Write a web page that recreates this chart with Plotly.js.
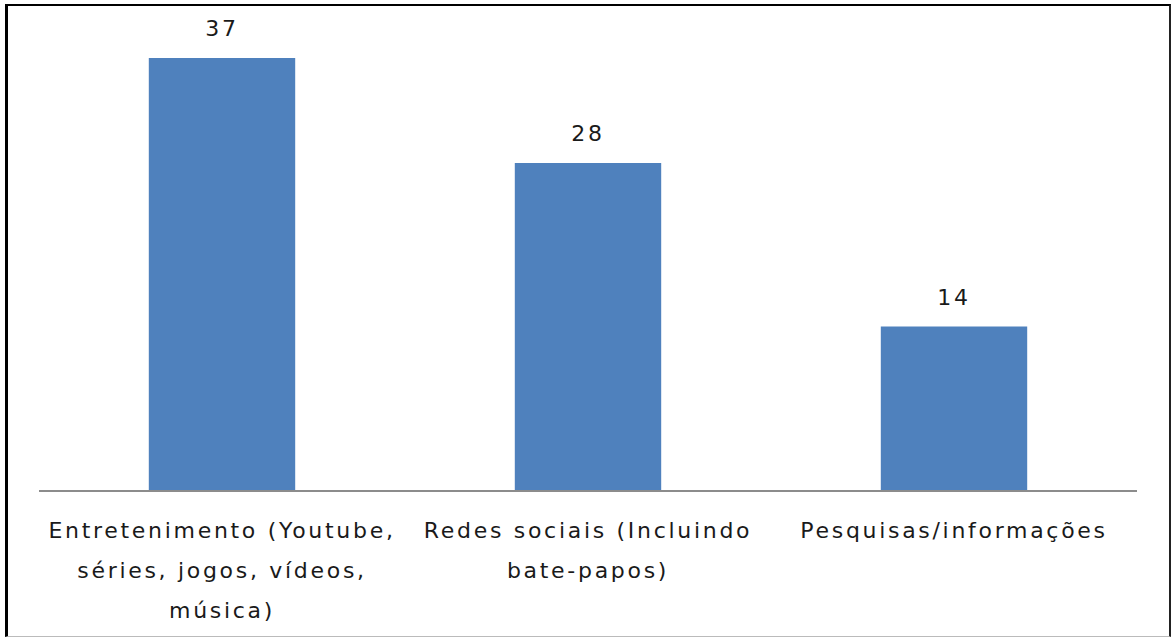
<!DOCTYPE html>
<html>
<head>
<meta charset="utf-8">
<script src="https://cdn.plot.ly/plotly-3.0.1.min.js"></script>
<style>
  html, body { margin: 0; padding: 0; background: #fff; }
  #wrap { position: relative; width: 1171px; height: 639px; }
  #chart { position: absolute; left: 0; top: 0; width: 1171px; height: 639px; }
  #chart svg text { letter-spacing: 2.7px; }
  #frame { position: absolute; left: 5px; top: 4px; width: 1161px; height: 630px;
           border-top: 2px solid #000; border-left: 3px solid #000;
           border-right: 2px solid #222; border-bottom: 1px solid #bbb;
           pointer-events: none; }
</style>
</head>
<body>
<div id="wrap">
  <div id="chart"></div>
  <div id="frame"></div>
</div>
<script>
const categories = [
  "Entretenimento (Youtube,<br>séries, jogos, vídeos,<br>música)",
  "Redes sociais (Incluindo<br>bate-papos)",
  "Pesquisas/informações"
];
const values = [37, 28, 14];
const valueLabels = values.map(v => String(v));

const LINE_PX = 40;

const trace = {
  type: 'bar',
  x: categories,
  y: values,
  marker: { color: '#4F81BD' },
  hoverinfo: 'skip'
};

const annotations = categories.map((c, i) => ({
  x: c, y: values[i], xref: 'x', yref: 'y',
  text: valueLabels[i], showarrow: false,
  yanchor: 'bottom', yshift: 15,
  font: { family: 'DejaVu Sans, sans-serif', size: 22, color: '#1a1a1a' }
}));

const layout = {
  width: 1171, height: 639,
  margin: { l: 39, r: 34, t: 23, b: 149 },
  paper_bgcolor: '#fff', plot_bgcolor: '#fff',
  bargap: 0.6,
  showlegend: false,
  xaxis: {
    type: 'category',
    showline: true, linecolor: '#8c8c8c', linewidth: 2,
    ticks: '', showgrid: false, zeroline: false,
    tickfont: { family: 'DejaVu Sans, sans-serif', size: 22, color: '#1a1a1a' },
    ticklabelstandoff: 20,
    fixedrange: true
  },
  yaxis: {
    range: [0, 40], visible: false, showgrid: false, zeroline: false, fixedrange: true
  },
  annotations: annotations
};

function fixLines() {
  document.querySelectorAll('#chart .xtick text tspan.line').forEach(t => {
    const dy = parseFloat(t.getAttribute('dy')) || 0;
    t.setAttribute('dy', (dy / 1.3 * LINE_PX) + 'px');
  });
}

Plotly.newPlot('chart', [trace], layout, { displayModeBar: false, staticPlot: true }).then(fixLines);
</script>
</body>
</html>
